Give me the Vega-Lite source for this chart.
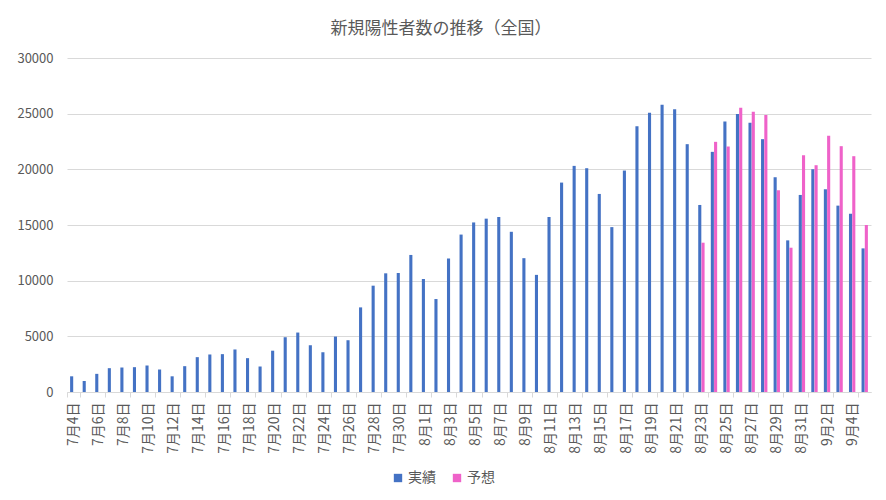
{
  "$schema": "https://vega.github.io/schema/vega-lite/v6.json",
  "width": 804,
  "height": 334,
  "padding": {"left": 16, "top": 20, "right": 10, "bottom": 5},
  "background": "white",
  "config": {
    "font": "Noto Sans CJK JP",
    "view": {"stroke": null}
  },
  "title": {
    "text": "新規陽性者数の推移（全国）",
    "fontSize": 17,
    "fontWeight": "normal",
    "color": "#595959",
    "anchor": "middle",
    "frame": "bounds",
    "dx": -3,
    "offset": 14
  },
  "data": {
    "values": [
      {"d": "7月4日", "s": "実績", "v": 1410},
      {"d": "7月5日", "s": "実績", "v": 990},
      {"d": "7月6日", "s": "実績", "v": 1630},
      {"d": "7月7日", "s": "実績", "v": 2140},
      {"d": "7月8日", "s": "実績", "v": 2200},
      {"d": "7月9日", "s": "実績", "v": 2230},
      {"d": "7月10日", "s": "実績", "v": 2380},
      {"d": "7月11日", "s": "実績", "v": 2020},
      {"d": "7月12日", "s": "実績", "v": 1410},
      {"d": "7月13日", "s": "実績", "v": 2320},
      {"d": "7月14日", "s": "実績", "v": 3130},
      {"d": "7月15日", "s": "実績", "v": 3370},
      {"d": "7月16日", "s": "実績", "v": 3400},
      {"d": "7月17日", "s": "実績", "v": 3820},
      {"d": "7月18日", "s": "実績", "v": 3040},
      {"d": "7月19日", "s": "実績", "v": 2290},
      {"d": "7月20日", "s": "実績", "v": 3710},
      {"d": "7月21日", "s": "実績", "v": 4920},
      {"d": "7月22日", "s": "実績", "v": 5340},
      {"d": "7月23日", "s": "実績", "v": 4200},
      {"d": "7月24日", "s": "実績", "v": 3570},
      {"d": "7月25日", "s": "実績", "v": 4980},
      {"d": "7月26日", "s": "実績", "v": 4650},
      {"d": "7月27日", "s": "実績", "v": 7600},
      {"d": "7月28日", "s": "実績", "v": 9550},
      {"d": "7月29日", "s": "実績", "v": 10660},
      {"d": "7月30日", "s": "実績", "v": 10690},
      {"d": "7月31日", "s": "実績", "v": 12310},
      {"d": "8月1日", "s": "実績", "v": 10150},
      {"d": "8月2日", "s": "実績", "v": 8350},
      {"d": "8月3日", "s": "実績", "v": 11980},
      {"d": "8月4日", "s": "実績", "v": 14140},
      {"d": "8月5日", "s": "実績", "v": 15230},
      {"d": "8月6日", "s": "実績", "v": 15570},
      {"d": "8月7日", "s": "実績", "v": 15720},
      {"d": "8月8日", "s": "実績", "v": 14390},
      {"d": "8月9日", "s": "実績", "v": 12020},
      {"d": "8月10日", "s": "実績", "v": 10520},
      {"d": "8月11日", "s": "実績", "v": 15720},
      {"d": "8月12日", "s": "実績", "v": 18810},
      {"d": "8月13日", "s": "実績", "v": 20310},
      {"d": "8月14日", "s": "実績", "v": 20100},
      {"d": "8月15日", "s": "実績", "v": 17790},
      {"d": "8月16日", "s": "実績", "v": 14810},
      {"d": "8月17日", "s": "実績", "v": 19890},
      {"d": "8月18日", "s": "実績", "v": 23860},
      {"d": "8月19日", "s": "実績", "v": 25090},
      {"d": "8月20日", "s": "実績", "v": 25810},
      {"d": "8月21日", "s": "実績", "v": 25390},
      {"d": "8月22日", "s": "実績", "v": 22260},
      {"d": "8月23日", "s": "実績", "v": 16800},
      {"d": "8月24日", "s": "実績", "v": 21570},
      {"d": "8月25日", "s": "実績", "v": 24300},
      {"d": "8月26日", "s": "実績", "v": 24960},
      {"d": "8月27日", "s": "実績", "v": 24180},
      {"d": "8月28日", "s": "実績", "v": 22710},
      {"d": "8月29日", "s": "実績", "v": 19290},
      {"d": "8月30日", "s": "実績", "v": 13620},
      {"d": "8月31日", "s": "実績", "v": 17700},
      {"d": "9月1日", "s": "実績", "v": 20010},
      {"d": "9月2日", "s": "実績", "v": 18210},
      {"d": "9月3日", "s": "実績", "v": 16740},
      {"d": "9月4日", "s": "実績", "v": 16020},
      {"d": "9月5日", "s": "実績", "v": 12900},
      {"d": "8月23日", "s": "予想", "v": 13410},
      {"d": "8月24日", "s": "予想", "v": 22470},
      {"d": "8月25日", "s": "予想", "v": 22050},
      {"d": "8月26日", "s": "予想", "v": 25530},
      {"d": "8月27日", "s": "予想", "v": 25170},
      {"d": "8月28日", "s": "予想", "v": 24870},
      {"d": "8月29日", "s": "予想", "v": 18120},
      {"d": "8月30日", "s": "予想", "v": 12960},
      {"d": "8月31日", "s": "予想", "v": 21270},
      {"d": "9月1日", "s": "予想", "v": 20370},
      {"d": "9月2日", "s": "予想", "v": 23010},
      {"d": "9月3日", "s": "予想", "v": 22080},
      {"d": "9月4日", "s": "予想", "v": 21180},
      {"d": "9月5日", "s": "予想", "v": 15000}
    ]
  },
  "mark": {"type": "bar"},
  "encoding": {
    "x": {
      "field": "d",
      "type": "ordinal",
      "sort": null,
      "scale": {"paddingInner": 0, "paddingOuter": 0},
      "title": null,
      "axis": {
        "values": ["7月4日","7月6日","7月8日","7月10日","7月12日","7月14日","7月16日","7月18日","7月20日","7月22日","7月24日","7月26日","7月28日","7月30日","8月1日","8月3日","8月5日","8月7日","8月9日","8月11日","8月13日","8月15日","8月17日","8月19日","8月21日","8月23日","8月25日","8月27日","8月29日","8月31日","9月2日","9月4日"],
        "tickBand": "extent",
        "labelAngle": -90,
        "labelFontSize": 14,
        "labelColor": "#595959",
        "labelPadding": 5,
        "domainColor": "#d9d9d9",
        "tickColor": "#d9d9d9",
        "tickSize": 5,
        "grid": false
      }
    },
    "xOffset": {
      "field": "s",
      "type": "nominal",
      "sort": ["実績", "予想"],
      "scale": {"domain": ["実績", "予想"], "paddingInner": 0.05, "paddingOuter": 0.95}
    },
    "y": {
      "field": "v",
      "type": "quantitative",
      "title": null,
      "scale": {"domain": [0, 30000], "nice": false},
      "axis": {
        "values": [0, 5000, 10000, 15000, 20000, 25000, 30000],
        "format": "d",
        "ticks": false,
        "domain": false,
        "labelFontSize": 13,
        "labelColor": "#595959",
        "labelPadding": 14,
        "gridColor": "#d9d9d9",
        "gridWidth": 1
      }
    },
    "color": {
      "field": "s",
      "type": "nominal",
      "scale": {"domain": ["実績", "予想"], "range": ["#4472C4", "#EF62C9"]},
      "legend": {
        "title": null,
        "orient": "none",
        "direction": "horizontal",
        "legendX": 324,
        "legendY": 413,
        "symbolType": "square",
        "symbolSize": 70,
        "symbolStrokeWidth": 0,
        "labelFontSize": 14,
        "labelColor": "#595959",
        "columnPadding": 14,
        "labelOffset": 3
      }
    }
  }
}
